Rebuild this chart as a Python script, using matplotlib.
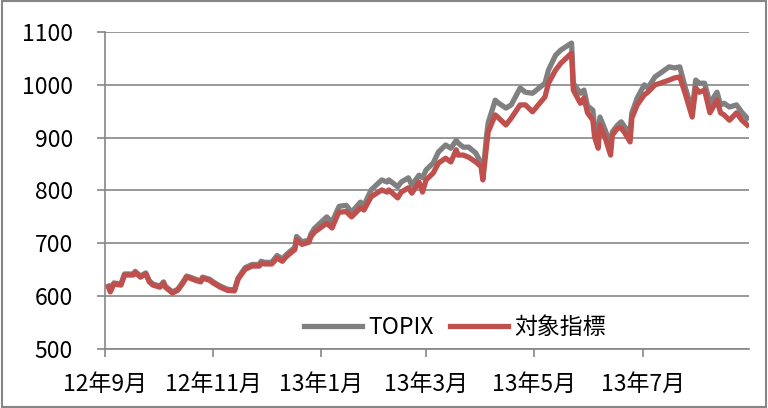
import matplotlib
matplotlib.use("Agg")
import matplotlib.pyplot as plt
import matplotlib.dates as mdates
import pandas as pd
from matplotlib.patches import Rectangle

plt.rcParams['font.family'] = ['Noto Sans CJK JP', 'DejaVu Sans']

# values
dates = [
    "2012-09-03", "2012-09-04", "2012-09-06", "2012-09-10", "2012-09-12", "2012-09-17",
    "2012-09-18", "2012-09-21", "2012-09-24", "2012-09-26", "2012-09-28", "2012-10-02",
    "2012-10-04", "2012-10-05", "2012-10-09", "2012-10-12", "2012-10-15", "2012-10-17",
    "2012-10-19", "2012-10-22", "2012-10-25", "2012-10-26", "2012-10-30", "2012-11-01",
    "2012-11-05", "2012-11-09", "2012-11-13", "2012-11-15", "2012-11-19", "2012-11-23",
    "2012-11-27", "2012-11-28", "2012-11-30", "2012-12-04", "2012-12-07", "2012-12-10",
    "2012-12-12", "2012-12-14", "2012-12-17", "2012-12-18", "2012-12-21", "2012-12-25",
    "2012-12-26", "2012-12-28", "2013-01-04", "2013-01-07", "2013-01-10", "2013-01-11",
    "2013-01-15", "2013-01-18", "2013-01-23", "2013-01-25", "2013-01-29", "2013-02-04",
    "2013-02-07", "2013-02-08", "2013-02-13", "2013-02-15", "2013-02-19", "2013-02-21",
    "2013-02-25", "2013-02-27", "2013-03-01", "2013-03-05", "2013-03-08", "2013-03-12",
    "2013-03-15", "2013-03-18", "2013-03-19", "2013-03-22", "2013-03-25", "2013-03-29",
    "2013-04-01", "2013-04-02", "2013-04-04", "2013-04-05", "2013-04-09", "2013-04-11",
    "2013-04-15", "2013-04-18", "2013-04-23", "2013-04-26", "2013-04-30", "2013-05-07",
    "2013-05-09", "2013-05-13", "2013-05-16", "2013-05-22", "2013-05-23", "2013-05-27",
    "2013-05-29", "2013-05-31", "2013-06-03", "2013-06-04", "2013-06-06", "2013-06-07",
    "2013-06-10", "2013-06-13", "2013-06-14", "2013-06-17", "2013-06-19", "2013-06-21",
    "2013-06-24", "2013-06-25", "2013-06-28", "2013-07-02", "2013-07-04", "2013-07-08",
    "2013-07-11", "2013-07-16", "2013-07-19", "2013-07-22", "2013-07-25", "2013-07-29",
    "2013-07-31", "2013-08-02", "2013-08-05", "2013-08-08", "2013-08-12", "2013-08-14",
    "2013-08-16", "2013-08-19", "2013-08-23", "2013-08-26", "2013-08-29",
]

topix = [
    619, 610, 625, 623, 642, 642, 647, 638, 644, 629, 623, 619,
    627, 619, 608, 613, 627, 638, 636, 632, 629, 636, 632, 627,
    619, 613, 612, 634, 654, 660, 660, 666, 664, 664, 677, 670,
    678, 684, 692, 713, 703, 706, 717, 728, 750, 740, 763, 770,
    772, 759, 778, 772, 801, 820, 816, 820, 807, 816, 824, 810,
    829, 824, 839, 852, 873, 886, 880, 895, 890, 882, 882, 871,
    852, 826, 901, 928, 971, 965, 956, 962, 994, 986, 984, 1003,
    1028, 1056, 1066, 1079, 1003, 984, 990, 960, 952, 920, 905, 939,
    914, 886, 911, 924, 930, 920, 911, 947, 975, 1000, 994, 1015,
    1022, 1034, 1032, 1034, 996, 952, 1009, 1003, 1003, 965, 986, 962,
    965, 958, 962, 948, 937,
]

target = [
    617, 608, 623, 621, 640, 640, 645, 636, 642, 627, 621, 617,
    625, 617, 606, 611, 625, 636, 634, 630, 627, 634, 630, 625,
    617, 611, 610, 632, 651, 657, 657, 662, 661, 661, 672, 666,
    674, 680, 688, 707, 698, 702, 712, 721, 738, 729, 753, 759,
    760, 750, 767, 763, 788, 801, 797, 801, 786, 797, 805, 795,
    816, 797, 820, 833, 852, 861, 854, 877, 867, 867, 863, 854,
    845, 820, 882, 911, 943, 937, 924, 937, 962, 962, 949, 977,
    1003, 1028, 1041, 1060, 990, 965, 975, 947, 933, 901, 880, 924,
    899, 867, 905, 918, 918, 909, 892, 937, 962, 981, 986, 1000,
    1003, 1009, 1013, 1015, 984, 939, 994, 986, 990, 947, 971, 947,
    943, 933, 947, 933, 924,
]

tick_dates = ["2012-09-01", "2012-11-01", "2013-01-01", "2013-03-01", "2013-05-01", "2013-07-01"]
tick_labels = ["12年9月", "12年11月", "13年1月", "13年3月", "13年5月", "13年7月"]
yticks = [500, 600, 700, 800, 900, 1000, 1100]

x = pd.to_datetime(dates)
grid_c = "#868686"

fig = plt.figure(figsize=(7.68, 4.08), dpi=100)
ax = fig.add_axes([0.1367, 0.1446, 0.8385, 0.777])

ax.plot(x, topix, color="#808080", lw=3.8, label="TOPIX", solid_joinstyle="round")
ax.plot(x, target, color="#C0504D", lw=3.8, label="対象指標", solid_joinstyle="round")

ax.set_ylim(500, 1100)
ax.set_yticks(yticks)
ax.set_xlim(pd.Timestamp("2012-09-01"), pd.Timestamp("2013-08-30"))
ax.set_xticks(pd.to_datetime(tick_dates))
ax.set_xticklabels(tick_labels)

ax.grid(axis="y", color=grid_c, lw=1.2)
ax.set_axisbelow(True)
for s in ["top", "right"]:
    ax.spines[s].set_visible(False)
for s in ["left", "bottom"]:
    ax.spines[s].set_color(grid_c)
    ax.spines[s].set_linewidth(1.2)

ax.tick_params(axis="y", length=6, width=1.2, color=grid_c, pad=17, labelsize=16.5)
ax.tick_params(axis="x", length=6, width=1.2, color=grid_c, pad=11, labelsize=16.5)

ax.legend(loc="center", bbox_to_anchor=(0.543, 0.069), ncol=2, frameon=False,
          fontsize=16.5, handlelength=2.55, handletextpad=0.25, columnspacing=0.7)

fig.patches.append(Rectangle((0.003, 0.002), 0.995, 0.995, transform=fig.transFigure,
                             fill=False, edgecolor="#868686", lw=1.5))

fig.savefig("out.png", dpi=100)
